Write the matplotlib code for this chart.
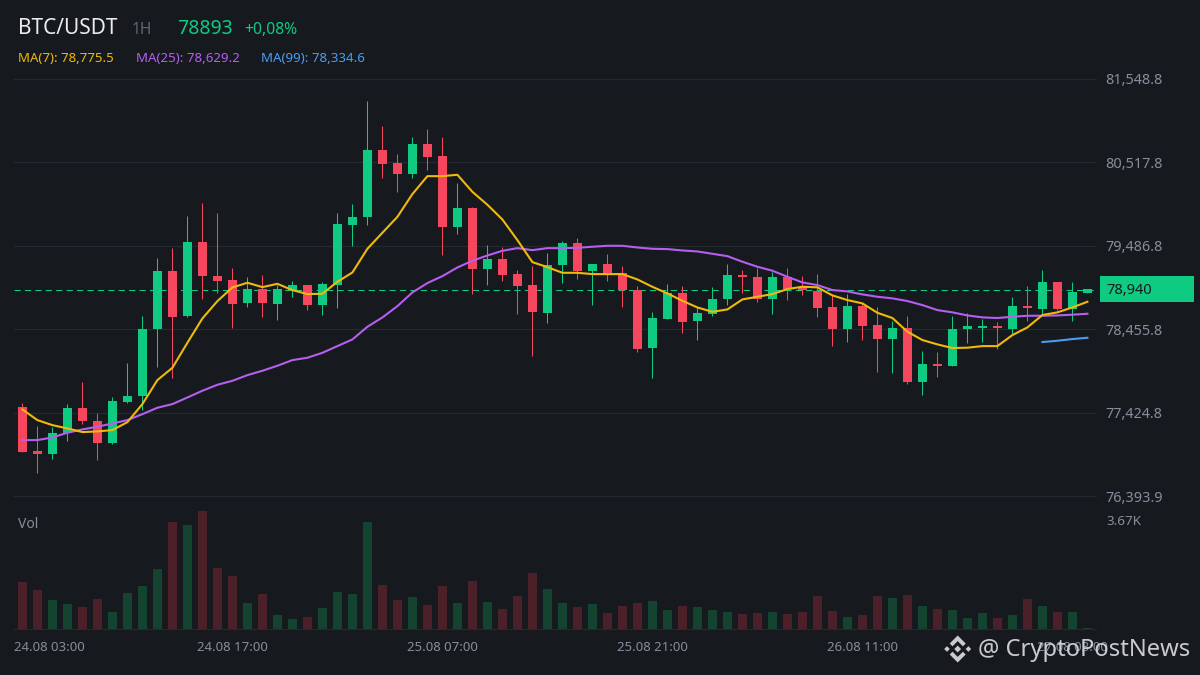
import matplotlib
matplotlib.use("Agg")
import matplotlib.pyplot as plt
from matplotlib.patches import Polygon, Rectangle
from matplotlib.transforms import ScaledTranslation
import numpy as np

FONT = "Noto Sans"
plt.rcParams["font.family"] = [FONT, "DejaVu Sans"]

# ---------- data ----------
tops = [77493,76949,77172,77481,77481,77320,77568,77629,78457,79174,79174,79533,79533,79112,79063,78951,78951,78951,79001,79001,79013,79755,79842,80670,
        80670,80509,80744,80744,80596,79953,79953,79322,79322,79137,79001,79248,79520,79520,79260,79260,79149,78939,78593,78902,78902,78655,78828,79125,
        79125,79100,79100,79100,78977,78931,78729,78742,78742,78507,78470,78470,78025,78025,78458,78495,78495,78495,78742,78742,79038,79038,78915,78952]
bottoms = [76941,76916,76916,77168,77324,77052,77052,77555,77633,78457,78610,78622,79116,79050,78770,78783,78783,78770,78939,78758,78758,79005,79747,79846,
           80501,80377,80377,80587,79722,79722,79203,79203,79129,78993,78671,78659,79252,79174,79178,79141,78943,78214,78226,78585,78548,78560,78646,78832,
           79104,78828,78828,78952,78940,78717,78458,78458,78495,78334,78334,77802,77802,78000,78000,78458,78470,78470,78458,78717,78705,78705,78705,78903]
highs = [77547,77258,77250,77530,77802,77419,77617,78037,78618,79335,79458,79854,80014,79891,79211,79100,79125,79001,79050,79001,79038,79891,80002,81275,
         80966,80620,80830,80929,80830,80262,79965,79495,79470,79186,79236,79396,79545,79582,79260,79384,79236,78988,78667,79013,78988,78733,78976,79260,
         79187,79212,79162,79212,79113,79137,78878,78890,78775,78729,78556,78618,78186,78173,78618,78655,78581,78544,78853,78989,79187,79038,79038,78952]
lows = [76941,76681,76855,77077,77287,76842,77040,77547,77460,77992,77856,78610,78832,78906,78474,78733,78610,78573,78857,78696,78634,78721,79487,79747,
        80328,80155,80328,80427,79376,79636,78894,79005,79054,78647,78128,78535,79030,79079,78758,79054,78733,78177,77856,78585,78412,78325,78622,78758,
        78903,78791,78643,78816,78878,78606,78247,78297,78322,77926,77914,77778,77642,77864,78000,78285,78297,78210,78396,78556,78643,78692,78556,78903]
rising = [0,0,1,1,0,0,1,1,1,1,0,1,0,0,0,1,0,1,1,0,1,1,1,1,
          0,0,1,0,0,1,0,1,0,0,0,1,1,0,1,0,0,0,1,1,0,1,1,1,
          0,0,1,0,0,0,0,1,0,0,1,0,1,0,1,1,1,0,1,0,1,0,1,1]
ma7 = [77464,77332,77270,77229,77184,77192,77209,77307,77530,77827,77979,78288,78589,78803,78972,79030,78976,79017,78939,78890,78894,79042,79157,79450,
       79648,79845,80126,80348,80348,80365,80154,79994,79812,79557,79285,79223,79153,79153,79137,79137,79137,79071,78980,78898,78807,78725,78671,78700,
       78824,78857,78890,78952,78981,78973,78874,78816,78775,78659,78594,78425,78322,78268,78223,78227,78247,78247,78383,78478,78631,78664,78725,78795]
ma25 = [77085,77085,77118,77176,77217,77250,77291,77332,77406,77485,77530,77612,77695,77769,77818,77888,77942,78004,78074,78103,78164,78247,78329,78486,
        78601,78741,78910,79026,79112,79219,79302,79367,79425,79458,79433,79458,79458,79462,79475,79487,79487,79466,79450,79446,79429,79417,79388,79359,
        79290,79228,79179,79104,79034,79001,78940,78923,78886,78857,78837,78804,78754,78692,78664,78626,78602,78594,78610,78622,78622,78626,78635,78647]
ma99_start = 68
ma99 = [78297,78313,78334,78350]
volume = [1458,1210,900,776,682,931,527,1117,1334,1861,3319,3226,3671,1892,1644,807,1086,434,310,372,651,1148,1086,3319,
          1365,900,993,744,1334,807,1489,838,620,1024,1737,1241,807,682,776,496,713,807,869,589,713,682,589,527,
          465,496,527,465,527,1024,558,372,434,1024,962,1055,713,620,589,341,496,341,434,931,713,527,527,31]
price_ticks = [76393.9,77424.8,78455.8,79486.8,80517.8,81548.8]
price_labels = ["76,393.9","77,424.8","78,455.8","79,486.8","80,517.8","81,548.8"]
time_idx = [0,14,28,42,56,70]
time_labels = ["24.08 03:00","24.08 17:00","25.08 07:00","25.08 21:00","26.08 11:00","27.08 03:00"]
last_price = 78940
vol_max = 3670

# ---------- colours ----------
BG="#161a1e"; GRID="#252930"; UP="#0ecb81"; DOWN="#f6465d"; UPV="#14432f"; DOWNV="#4c2028"
C7="#f0b90b"; C25="#b55ef0"; C99="#4a9cf5"; TXT="#848e9c"

W,H=1200,675
fig=plt.figure(figsize=(12,6.75),dpi=100,facecolor=BG)
def axrect(l,t,r,b):
    return [l/W,1-b/H,(r-l)/W,(b-t)/H]
L,R=14,1096
xlim=((L-22.4)/15,(R-22.4)/15)

ax=fig.add_axes(axrect(L,79,R,496),facecolor=BG)
axv=fig.add_axes(axrect(L,510.7,R,629),facecolor=BG)

x=np.arange(len(tops))
tops_a,bot_a,hi_a,lo_a=map(np.array,(tops,bottoms,highs,lows))
cols=[UP if r else DOWN for r in rising]
volc=[UPV if r else DOWNV for r in rising]

ax.vlines(x,lo_a,hi_a,colors=cols,lw=0.75,zorder=3)
ax.bar(x,np.maximum(tops_a-bot_a,12),bottom=bot_a,width=0.6,color=cols,zorder=4,linewidth=0)
ax.axhline(last_price,color=UP,lw=0.75,ls=(0,(6,4)),zorder=2)
ax.plot(x,ma25,color=C25,lw=1.5,zorder=5,solid_joinstyle="round")
ax.plot(x,ma7,color=C7,lw=1.5,zorder=6,solid_joinstyle="round")
ax.plot(x[ma99_start:],ma99,color=C99,lw=1.5,zorder=5)

ax.set_xlim(*xlim); ax.set_ylim(price_ticks[0],price_ticks[-1])
ax.set_yticks(price_ticks,price_labels)
ax.yaxis.tick_right()
ax.tick_params(axis="y",length=0,pad=6.5,labelsize=10.4,labelcolor=TXT)
ax.set_xticks([])
ax.grid(axis="y",color=GRID,lw=0.9,zorder=0); ax.set_axisbelow(True)
for s in ax.spines.values(): s.set_visible(False)
ax.spines["top"].set_visible(True); ax.spines["top"].set_color(GRID); ax.spines["top"].set_linewidth(0.9)
ax.spines["bottom"].set_visible(True); ax.spines["bottom"].set_color(GRID); ax.spines["bottom"].set_linewidth(0.9)

axv.bar(x,volume,width=0.6,color=volc,linewidth=0)
axv.set_xlim(*xlim); axv.set_ylim(0,vol_max)
axv.set_yticks([])
axv.set_xticks(time_idx,time_labels)
axv.tick_params(axis="x",length=0,pad=8.5,labelsize=9.5,labelcolor=TXT)
first=axv.get_xticklabels()[0]
first.set_ha("left")
first.set_transform(first.get_transform()+ScaledTranslation(-8.4/100,0,fig.dpi_scale_trans))
for s in ("top","left","right"): axv.spines[s].set_visible(False)
axv.spines["bottom"].set_color(GRID); axv.spines["bottom"].set_linewidth(0.9)
axv.annotate("3.67K",xy=(1,1),xycoords="axes fraction",xytext=(7.5,-3),textcoords="offset points",
             color=TXT,fontsize=9.7,va="top",ha="left")
axv.annotate("Vol",xy=(0,1),xycoords="axes fraction",xytext=(3,-4.5),textcoords="offset points",
             color=TXT,fontsize=10,va="top",ha="left")

def T(px,py,s,**k):
    return fig.text(px/W,1-py/H,s,va="center",ha=k.pop("ha","left"),**k)

# header
T(18,29,"BTC/USDT",color="#eaecef",fontsize=15)
T(132,30,"1H",color="#5e6673",fontsize=11.2)
T(177,29,"78893",color=UP,fontsize=14)
T(244,30,"+0,08%",color=UP,fontsize=11.3)
T(18,58.5,"MA(7): 78,775.5",color=C7,fontsize=9.5)
T(136,58.5,"MA(25): 78,629.2",color=C25,fontsize=9.6)
T(261,58.5,"MA(99): 78,334.6",color=C99,fontsize=9.6)

# price tag
fig.add_artist(Rectangle((1100/W,1-302/H),94/W,26/H,transform=fig.transFigure,color=UP,lw=0))
T(1106,290.5,"78,940",color="#161a1e",fontsize=10.5)

# watermark
T(978,650.5,"@ CryptoPostNews",color="#d8dade",fontsize=17.1,alpha=0.92)
cx,cy=957.7,649
def P(pts):
    fig.add_artist(Polygon([((cx+a)/W,1-(cy+b)/H) for a,b in pts],closed=True,transform=fig.transFigure,
                           facecolor="#d8dade",edgecolor="none",alpha=0.92))
P([(0,-3.4),(3.4,0),(0,3.4),(-3.4,0)])
P([(-13.5,0),(-10.7,-2.8),(-7.9,0),(-10.7,2.8)])
P([(13.5,0),(10.7,-2.8),(7.9,0),(10.7,2.8)])
P([(0,-13.5),(8,-5.5),(5.2,-2.7),(0,-7.9),(-5.2,-2.7),(-8,-5.5)])
P([(0,13.5),(8,5.5),(5.2,2.7),(0,7.9),(-5.2,2.7),(-8,5.5)])

fig.savefig("out.png",dpi=100,facecolor=BG)
